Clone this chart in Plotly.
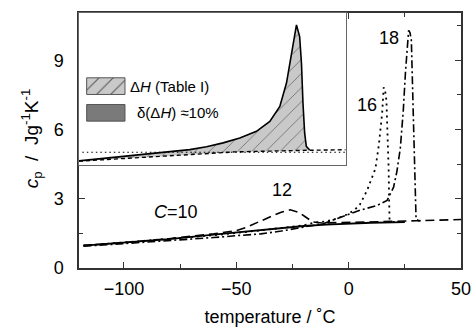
import plotly.graph_objects as go

# ---------------- main data ----------------
t10 = [-118, -100, -80, -60, -50, -40, -30, -20, -10, 0, 10, 20, 25]
cp10 = [0.97, 1.1, 1.25, 1.45, 1.55, 1.65, 1.73, 1.82, 1.88, 1.93, 1.96, 1.98, 1.99]

t12 = [-118, -100, -80, -60, -50, -45, -40, -35, -30, -26, -22, -19, -16, -12, -5, 0, 10, 20, 30, 40, 50]
cp12 = [0.98, 1.1, 1.27, 1.48, 1.62, 1.78, 2.0, 2.22, 2.42, 2.52, 2.4, 2.2, 2.0, 1.95, 1.96, 1.97, 1.99, 2.02, 2.05, 2.08, 2.1]

t16 = [-118, -100, -80, -60, -40, -20, -15, -10, -5, 0, 3, 5, 8.2, 10.4, 11.9, 13.4, 14.9, 15.6, 16.2, 16.8, 17.3, 17.8, 18.0, 18.2, 19.5, 25]
cp16 = [0.97, 1.1, 1.25, 1.42, 1.62, 1.85, 1.97, 2.02, 2.15, 2.35, 2.55, 2.75, 3.36, 3.9, 4.3, 5.3, 6.7, 7.83, 7.7, 7.27, 6.0, 4.3, 3.0, 2.1, 2.0, 2.0]

t18 = [-118, -100, -80, -69, -60, -50, -39, -30, -24.5, -18, -11, -5, 0.7, 5, 12.6, 17.1, 20, 21.5, 23, 24.3, 25.3, 26, 26.7, 27.3, 27.9, 28.6, 29.4, 30, 31, 32]
cp18 = [0.94, 1.05, 1.18, 1.26, 1.32, 1.4, 1.48, 1.6, 1.7, 1.8, 1.93, 2.15, 2.35, 2.5, 2.71, 2.93, 3.5, 4.2, 5.2, 6.8, 8.5, 9.5, 10.3, 10.2, 9.88, 7.27, 4.37, 2.13, 2.05, 2.05]

label_text = ["<i>C</i>=10", "12", "16", "18"]
label_t = [-77, -29.6, 8.2, 17.8]
label_cp = [2.42, 3.36, 7.05, 9.95]

# ---------------- inset data ----------------
ins_t = [-120, -95.4, -71.5, -53.5, -43.5, -33.5, -23.5, -13.5, -5.5, 0.5, 4.5, 6.5, 8.6, 10.5, 12.4, 13.5, 14.4, 15.4, 16.4, 18.4]
ins_cp = [0.36, 0.67, 0.98, 1.25, 1.47, 1.78, 2.17, 2.69, 3.47, 4.65, 6.49, 8.05, 9.88, 11.06, 10.14, 8.05, 4.92, 2.56, 1.51, 1.22]
base_t = [-120, -26.5, 18.4, 40]
base_cp = [0.34, 1.07, 1.2, 1.24]
dot_t = [-118, 40]
dot_cp = [1.04, 1.04]

# legend swatches (inset coordinates)
sw_x = [-115.4, -92.4]
sw1_y = [5.59, 6.9]
sw2_y = [3.49, 4.8]
leg_text = ["Δ<i>H</i> (Table I)", "δ(Δ<i>H</i>) ≈10%"]
leg_x = [-90.5, -86.4]
leg_y = [6.22, 4.17]

FONT = "Liberation Sans, Arial, sans-serif"
fig = go.Figure()

# main curves
fig.add_trace(go.Scatter(x=t10, y=cp10, mode="lines", line=dict(color="black", width=1.8)))
fig.add_trace(go.Scatter(x=t12, y=cp12, mode="lines", line=dict(color="black", width=1.6, dash="9px,5px")))
fig.add_trace(go.Scatter(x=t16, y=cp16, mode="lines", line=dict(color="black", width=1.8, dash="2px,4px")))
fig.add_trace(go.Scatter(x=t18, y=cp18, mode="lines", line=dict(color="black", width=1.6, dash="8px,3px,2px,3px")))

# inset
fig.add_trace(go.Scatter(x=base_t, y=base_cp, mode="lines", xaxis="x2", yaxis="y2",
                         line=dict(color="black", width=1.4, dash="4px,3px")))
fig.add_trace(go.Scatter(x=ins_t, y=ins_cp, mode="lines", xaxis="x2", yaxis="y2",
                         line=dict(color="black", width=1.6), fill="tonexty",
                         fillcolor="#c9c9c9",
                         fillpattern=dict(shape="/", bgcolor="#c9c9c9", fgcolor="#666666",
                                          size=10, solidity=0.08, fillmode="replace")))
fig.add_trace(go.Scatter(x=dot_t, y=dot_cp, mode="lines", xaxis="x2", yaxis="y2",
                         line=dict(color="black", width=1.2, dash="1.5px,3px")))

# legend swatches
fig.add_trace(go.Scatter(x=[sw_x[0], sw_x[1], sw_x[1], sw_x[0], sw_x[0]],
                         y=[sw1_y[0], sw1_y[0], sw1_y[1], sw1_y[1], sw1_y[0]],
                         mode="lines", xaxis="x2", yaxis="y2", fill="toself",
                         line=dict(color="#555555", width=1),
                         fillpattern=dict(shape="/", bgcolor="#c9c9c9", fgcolor="#555555",
                                          size=10, solidity=0.1, fillmode="replace")))
fig.add_trace(go.Scatter(x=[sw_x[0], sw_x[1], sw_x[1], sw_x[0], sw_x[0]],
                         y=[sw2_y[0], sw2_y[0], sw2_y[1], sw2_y[1], sw2_y[0]],
                         mode="lines", xaxis="x2", yaxis="y2", fill="toself",
                         fillcolor="#7a7a7a", line=dict(color="#555555", width=1)))

annots = []
for txt, x, y in zip(label_text, label_t, label_cp):
    annots.append(dict(x=x, y=y, xref="x", yref="y", text=txt, showarrow=False,
                       font=dict(family=FONT, size=18, color="black")))
for txt, x, y in zip(leg_text, leg_x, leg_y):
    annots.append(dict(x=x, y=y, xref="x2", yref="y2", text=txt, showarrow=False,
                       xanchor="left", font=dict(family=FONT, size=15, color="black")))
# y-axis title
annots.append(dict(x=-0.122, y=0.51, xref="paper", yref="paper", textangle=-90,
                   text="<i>c</i><sub>p</sub>&nbsp;&nbsp;/&nbsp;&nbsp;Jg<sup>-1</sup>K<sup>-1</sup>",
                   showarrow=False, xanchor="center", yanchor="middle",
                   font=dict(family=FONT, size=19, color="black")))

axis_col = "#333333"
fig.update_layout(
    width=472, height=327,
    margin=dict(l=79, r=11, t=13, b=59),
    paper_bgcolor="white", plot_bgcolor="white",
    showlegend=False,
    font=dict(family=FONT, size=18, color="black"),
    annotations=annots,
    xaxis=dict(range=[-120, 50], tick0=-100, dtick=50, ticks="inside", ticklen=6, tickwidth=1.2,
               tickcolor=axis_col, showline=True, linecolor=axis_col, linewidth=1.5, mirror="ticks",
               showgrid=False, zeroline=False, automargin=False,
               minor=dict(dtick=25, tick0=-100, ticks="inside", ticklen=4, tickcolor=axis_col, showgrid=False),
               tickfont=dict(size=18), ticklabelstandoff=4,
               title=dict(text="temperature / ˚C", font=dict(size=18), standoff=12)),
    yaxis=dict(range=[0, 11.05], tick0=0, dtick=3, ticks="inside", ticklen=6, tickwidth=1.2,
               tickcolor=axis_col, showline=True, linecolor=axis_col, linewidth=1.5, mirror="ticks",
               showgrid=False, zeroline=False, automargin=False,
               minor=dict(dtick=1.5, tick0=0, ticks="inside", ticklen=4, tickcolor=axis_col, showgrid=False),
               tickfont=dict(size=18), ticklabelstandoff=10),
    xaxis2=dict(domain=[0, 0.698], anchor="y2", range=[-120, 40], showticklabels=False, ticks="",
                showline=True, linecolor="#666666", linewidth=1.2, mirror=True, showgrid=False, zeroline=False),
    yaxis2=dict(domain=[0.402, 1], anchor="x2", range=[0, 12], showticklabels=False, ticks="",
                showline=True, linecolor="#666666", linewidth=1.2, mirror=True, showgrid=False, zeroline=False),
)

fig.write_html("out.html")
